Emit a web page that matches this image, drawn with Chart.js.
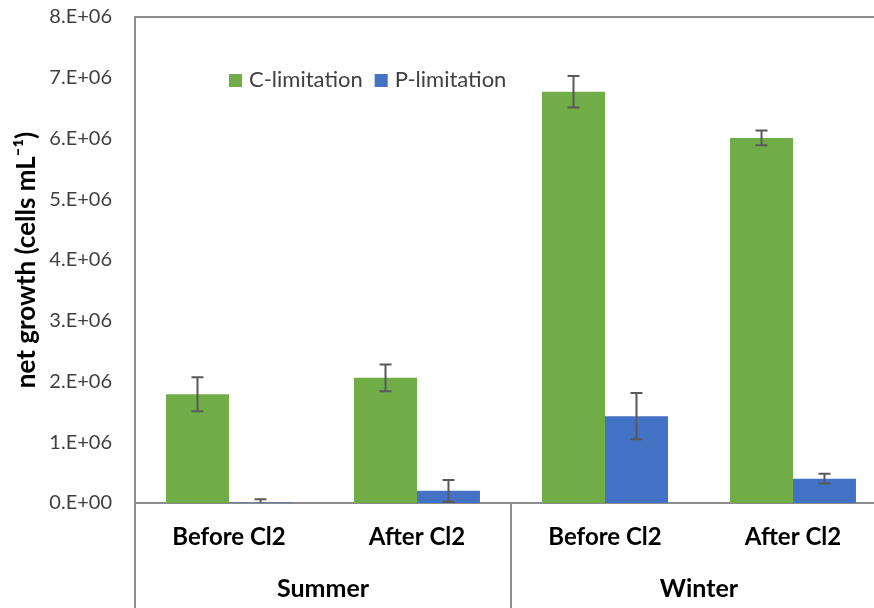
<!DOCTYPE html>
<html>
<head>
<meta charset="utf-8">
<script src="https://cdn.jsdelivr.net/npm/chart.js@4"></script>
<style>
  html, body { margin: 0; padding: 0; overflow: hidden; background: #fff; }
</style>
</head>
<body>
<canvas id="growthChart" width="900" height="608"></canvas>
<script>
const categories = ['Before Cl2', 'After Cl2', 'Before Cl2', 'After Cl2'];
const seasons = ['Summer', 'Winter'];
const seriesNames = ['C-limitation', 'P-limitation'];
const cLimitation = [1.79e6, 2.06e6, 6.77e6, 6.01e6];
const cError = [0.28e6, 0.22e6, 0.26e6, 0.12e6];
const pLimitation = [0.01e6, 0.20e6, 1.43e6, 0.40e6];
const pError = [0.05e6, 0.18e6, 0.38e6, 0.08e6];
const yTickLabels = ['0.E+00', '1.E+06', '2.E+06', '3.E+06', '4.E+06', '5.E+06', '6.E+06', '7.E+06', '8.E+06'];

const FONT = 'Lato, "Open Sans", sans-serif';
const AXIS_GREY = '#8c8c8c';

// error bars, legend, group labels and the frame lines
const extras = {
  id: 'extras',
  afterDatasetsDraw(chart) {
    const ctx = chart.ctx;
    const y = chart.scales.y;
    const area = chart.chartArea;
    const errors = [cError, pError];

    ctx.save();
    ctx.beginPath();
    ctx.rect(area.left, area.top, area.right - area.left, area.bottom - area.top);
    ctx.clip();
    ctx.strokeStyle = '#595959';
    ctx.lineWidth = 2;
    chart.data.datasets.forEach((ds, d) => {
      chart.getDatasetMeta(d).data.forEach((bar, i) => {
        const top = y.getPixelForValue(ds.data[i] + errors[d][i]);
        const bot = y.getPixelForValue(ds.data[i] - errors[d][i]);
        ctx.beginPath();
        ctx.moveTo(bar.x, top); ctx.lineTo(bar.x, bot);
        ctx.moveTo(bar.x - 6, top); ctx.lineTo(bar.x + 6, top);
        ctx.moveTo(bar.x - 6, bot); ctx.lineTo(bar.x + 6, bot);
        ctx.stroke();
      });
    });
    ctx.restore();
  },
  afterDraw(chart) {
    const ctx = chart.ctx;
    const x = chart.scales.x;
    const area = chart.chartArea;
    const h = chart.height;

    ctx.save();
    ctx.strokeStyle = AXIS_GREY;
    ctx.lineWidth = 2;
    // top frame
    ctx.beginPath();
    ctx.moveTo(area.left, area.top);
    ctx.lineTo(area.right, area.top);
    // left axis running down through the label rows
    ctx.moveTo(area.left, area.bottom);
    ctx.lineTo(area.left, h);
    // divider between the seasons
    const mid = (x.getPixelForTick(1) + x.getPixelForTick(2)) / 2;
    ctx.moveTo(mid, area.bottom);
    ctx.lineTo(mid, h);
    ctx.stroke();

    // season labels
    ctx.fillStyle = '#000';
    ctx.font = 'bold 25px ' + FONT;
    ctx.textAlign = 'center';
    ctx.textBaseline = 'middle';
    ctx.fillText(seasons[0], (area.left + mid) / 2, 589);
    ctx.fillText(seasons[1], (mid + area.right) / 2, 589);

    // legend
    ctx.font = '22px ' + FONT;
    ctx.textAlign = 'left';
    let lx = 229;
    chart.data.datasets.forEach(ds => {
      ctx.fillStyle = ds.backgroundColor;
      ctx.fillRect(lx, 74, 13, 13);
      ctx.fillStyle = '#404040';
      ctx.fillText(ds.label, lx + 20, 80);
      lx += 20 + ctx.measureText(ds.label).width + 12;
    });
    ctx.restore();
  }
};

new Chart(document.getElementById('growthChart'), {
  type: 'bar',
  data: {
    labels: categories,
    datasets: [
      { label: seriesNames[0], data: cLimitation, backgroundColor: '#70AD47', categoryPercentage: 0.67, barPercentage: 1 },
      { label: seriesNames[1], data: pLimitation, backgroundColor: '#4472C4', categoryPercentage: 0.67, barPercentage: 1 }
    ]
  },
  options: {
    responsive: false,
    animation: false,
    layout: { padding: { top: 17, right: 13, left: 0, bottom: 0 } },
    plugins: {
      legend: { display: false },
      tooltip: { enabled: false }
    },
    scales: {
      x: {
        grid: { display: false },
        border: { color: AXIS_GREY, width: 2 },
        ticks: { color: '#000', font: { family: FONT, size: 24, weight: 'bold' }, padding: 12 },
        afterFit(scale) {
          scale.height = 105;
          scale.paddingLeft = 0;
          scale.paddingRight = 0;
        }
      },
      y: {
        min: 0,
        max: 8e6,
        grid: { display: false },
        border: { color: AXIS_GREY, width: 2 },
        ticks: {
          stepSize: 1e6,
          color: '#404040',
          font: { family: FONT, size: 20 },
          padding: 15,
          callback: (v, i) => yTickLabels[i]
        },
        title: {
          display: true,
          text: 'net growth (cells mL⁻¹)',
          color: '#000',
          font: { family: FONT, size: 26, weight: 'bold' },
          padding: { top: 11, bottom: 0 }
        },
        afterFit(scale) {
          scale.width = 135;
          scale.paddingTop = 0;
          scale.paddingBottom = 0;
        }
      }
    }
  },
  plugins: [extras]
});
</script>
</body>
</html>
